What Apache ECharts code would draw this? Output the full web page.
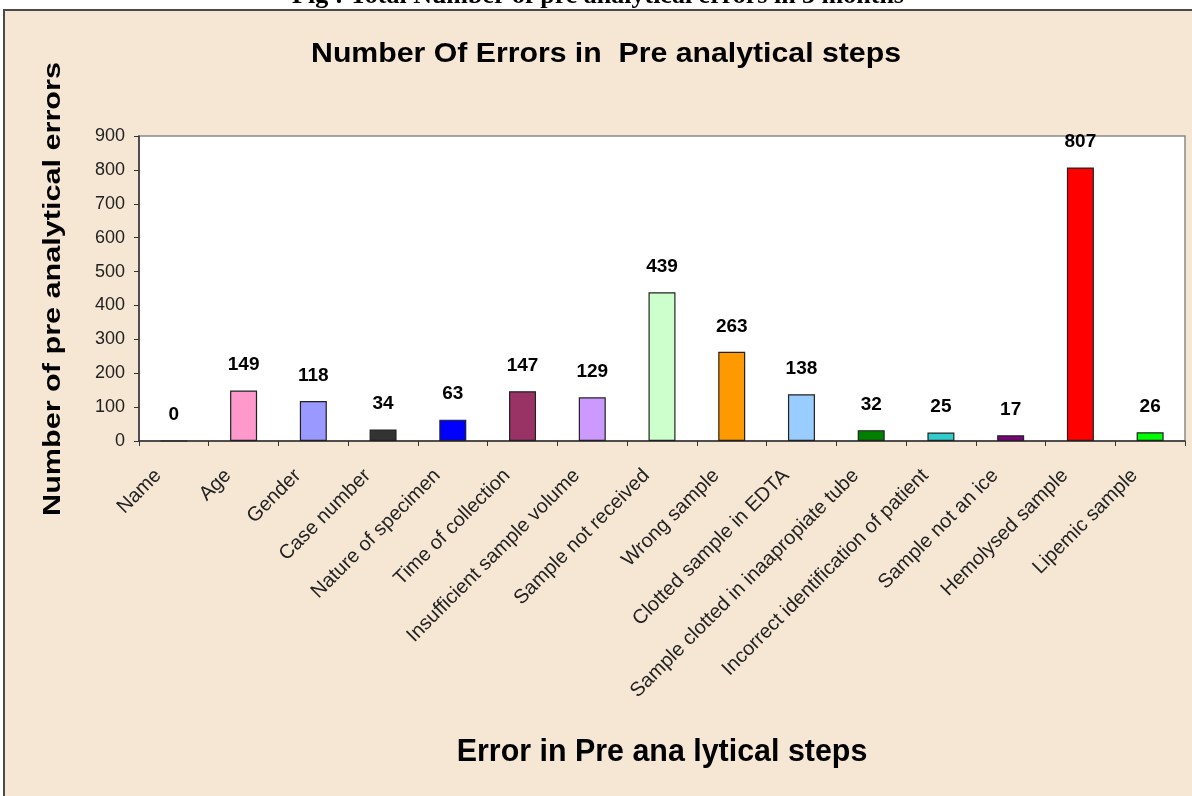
<!DOCTYPE html>
<html>
<head>
<meta charset="utf-8">
<script src="https://cdn.jsdelivr.net/npm/echarts@6/dist/echarts.min.js"></script>
<style>
html,body{margin:0;padding:0;background:#fff;}
#chart{width:1192px;height:796px;}
</style>
</head>
<body>
<div id="chart"></div>
<script>
var categories = ["Name","Age","Gender","Case number","Nature of specimen","Time of collection","Insufficient sample volume","Sample not received","Wrong sample","Clotted sample in EDTA","Sample clotted in inaapropiate tube","Incorrect identification of patient","Sample not an ice","Hemolysed sample","Lipemic sample"];
var values = [0,149,118,34,63,147,129,439,263,138,32,25,17,807,26];
var barColors = ["#FF99CC","#FF99CC","#9999FF","#333333","#0000FF","#993366","#CC99FF","#CCFFCC","#FF9900","#99CCFF","#008000","#33CCCC","#800080","#FF0000","#00FF00"];
var yTicks = [0,100,200,300,400,500,600,700,800,900];

var chart = echarts.init(document.getElementById('chart'));
var data = values.map(function(v,i){
  return {value:v, itemStyle:{color:barColors[i]}};
});
chart.setOption({
  backgroundColor:'#ffffff',
  animation:false,
  graphic:[
    {type:'text', z:-20, x:598, y:-17, style:{text:'Fig : Total Number of pre analytical errors in 3 months', font:'bold 26px "Liberation Serif"', fill:'#000', align:'center', verticalAlign:'top'}},
    {type:'rect', z:-10, shape:{x:4,y:10,width:1200,height:800}, style:{fill:'#F6E7D4', stroke:'#4a4a4a', lineWidth:2}},
    {type:'text', x:606, y:55, scaleX:1.12, style:{text:'Number Of Errors in  Pre analytical steps', font:'bold 27px "Liberation Sans"', fill:'#000', align:'center', verticalAlign:'middle'}},
    {type:'text', x:662, y:752, scaleX:0.95, style:{text:'Error in Pre ana lytical steps', font:'bold 32px "Liberation Sans"', fill:'#000', align:'center', verticalAlign:'middle'}},
    {type:'text', x:54, y:289, rotation:Math.PI/2, scaleX:1.33, style:{text:'Number of pre analytical errors', font:'bold 23px "Liberation Sans"', fill:'#000', align:'center', verticalAlign:'middle'}}
  ],
  grid:{left:139, right:7, top:136, bottom:355, show:true, backgroundColor:'#ffffff', borderColor:'#8a8a8a', borderWidth:1.5},
  xAxis:{
    type:'category', data:categories,
    axisLine:{lineStyle:{color:'#333', width:1.5}},
    axisTick:{show:true, length:5, lineStyle:{color:'#333'}},
    axisLabel:{rotate:45, interval:0, margin:16, padding:[0,22,0,0], fontFamily:'Liberation Sans', fontSize:20, color:'#222'}
  },
  yAxis:{
    type:'value', min:0, max:900, interval:100,
    axisLine:{show:true, lineStyle:{color:'#333', width:1.5}},
    axisTick:{show:true, length:5, lineStyle:{color:'#333'}},
    splitLine:{show:false},
    axisLabel:{margin:14, fontFamily:'Liberation Sans', fontSize:18, color:'#222',
      formatter:function(v){return yTicks.indexOf(v)>=0 ? String(v) : '';}}
  },
  series:[{
    type:'bar', data:data, barWidth:27,
    itemStyle:{borderColor:'#222', borderWidth:1.2},
    label:{show:true, position:'top', distance:16, fontFamily:'Liberation Sans', fontWeight:'bold', fontSize:19, color:'#000'}
  }]
});
</script>
</body>
</html>
